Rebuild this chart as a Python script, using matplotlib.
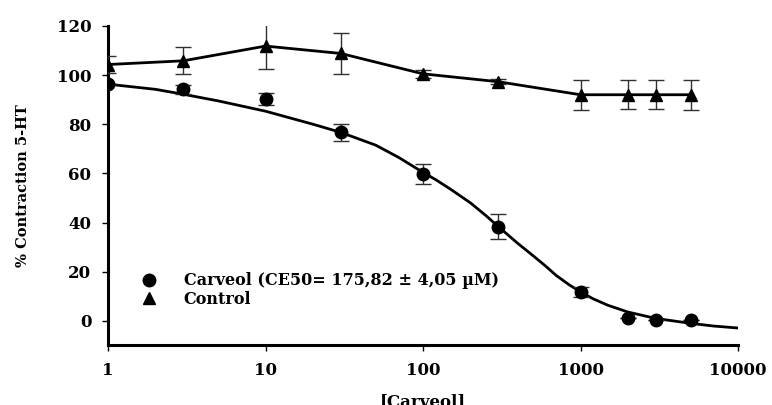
import matplotlib
matplotlib.use("Agg")
import matplotlib.pyplot as plt
from matplotlib.lines import Line2D

plt.rcParams['font.family'] = ['DejaVu Serif']
plt.rcParams['font.weight'] = 'bold'

# concentrations
conc = [1, 3, 10, 30, 100, 300, 1000, 2000, 3000, 5000]

# carveol responses
carveol = [96.5, 94.2, 90.3, 76.8, 59.8, 38.3, 11.7, 1.3, 0.4, 0.3]
carveol_err = [0, 1.8, 2.5, 3.5, 4.0, 5.0, 2.0, 0, 0, 0]

# control responses
control = [104.3, 105.8, 111.8, 108.8, 100.5, 97.3, 92.0, 92.0, 92.0, 92.0]
control_err = [3.5, 5.5, 9.5, 8.5, 1.5, 1.0, 6.2, 6.0, 6.0, 6.2]

# fitted curve
fit_x = [1, 2, 3, 5, 10, 20, 30, 50, 70, 100, 120, 150, 200, 250, 300, 350, 400,
         500, 600, 700, 850, 1000, 1200, 1500, 2000, 3000, 5000, 7000, 10000]
fit_y = [96.3, 94.2, 92.2, 89.5, 85.3, 80.0, 76.7, 71.5, 66.5, 60.4, 57.5, 53.5,
         48.0, 42.9, 38.4, 34.7, 31.5, 26.5, 22.3, 18.5, 14.6, 11.8, 9.0, 6.3,
         3.6, 1.0, -1.0, -2.1, -2.9]

fig = plt.figure(figsize=(7.72, 4.05), dpi=100)
ax = fig.add_axes([0.140, 0.147, 0.816, 0.789])

ax.plot(fit_x, fit_y, color='black', lw=2.0, zorder=2)
ax.plot(conc, control, color='black', lw=2.0, zorder=2)

ax.errorbar(conc, carveol, yerr=carveol_err, fmt='o', color='black', ms=9,
            ecolor='#303030', elinewidth=1.0, capsize=6, capthick=1.0, zorder=3)
ax.errorbar(conc, control, yerr=control_err, fmt='^', color='black', ms=9,
            ecolor='#303030', elinewidth=1.0, capsize=6, capthick=1.0, zorder=3)

ax.set_xscale('log')
ax.set_xlim(1, 10000)
ax.set_ylim(-10, 120)
ax.set_yticks([0, 20, 40, 60, 80, 100, 120])
ax.set_xticks([1, 10, 100, 1000, 10000])
ax.set_xticklabels(['1', '10', '100', '1000', '10000'])
ax.minorticks_off()

for s in ['top', 'right']:
    ax.spines[s].set_visible(False)
for s in ['left', 'bottom']:
    ax.spines[s].set_linewidth(2.2)
ax.tick_params(axis='both', direction='out', length=4, width=1, labelsize=12, pad=8)
for lab in ax.get_xticklabels() + ax.get_yticklabels():
    lab.set_fontweight('bold')

ax.set_xlabel('[Carveol]', fontsize=12, fontweight='bold', labelpad=10)
ax.set_ylabel('% Contraction 5-HT', fontsize=10.5, fontweight='bold', labelpad=19)

handles = [
    Line2D([], [], marker='o', color='black', ls='none', ms=9),
    Line2D([], [], marker='^', color='black', ls='none', ms=9),
]
labels = ['Carveol (CE50= 175,82 \u00b1 4,05 \u00b5M)', 'Control']
ax.legend(handles, labels, loc='lower left', bbox_to_anchor=(0.016, 0.073),
          frameon=False, prop={'size': 11.5, 'weight': 'bold'},
          handletextpad=1.2, labelspacing=0.1)

fig.savefig('out.png', dpi=100)
